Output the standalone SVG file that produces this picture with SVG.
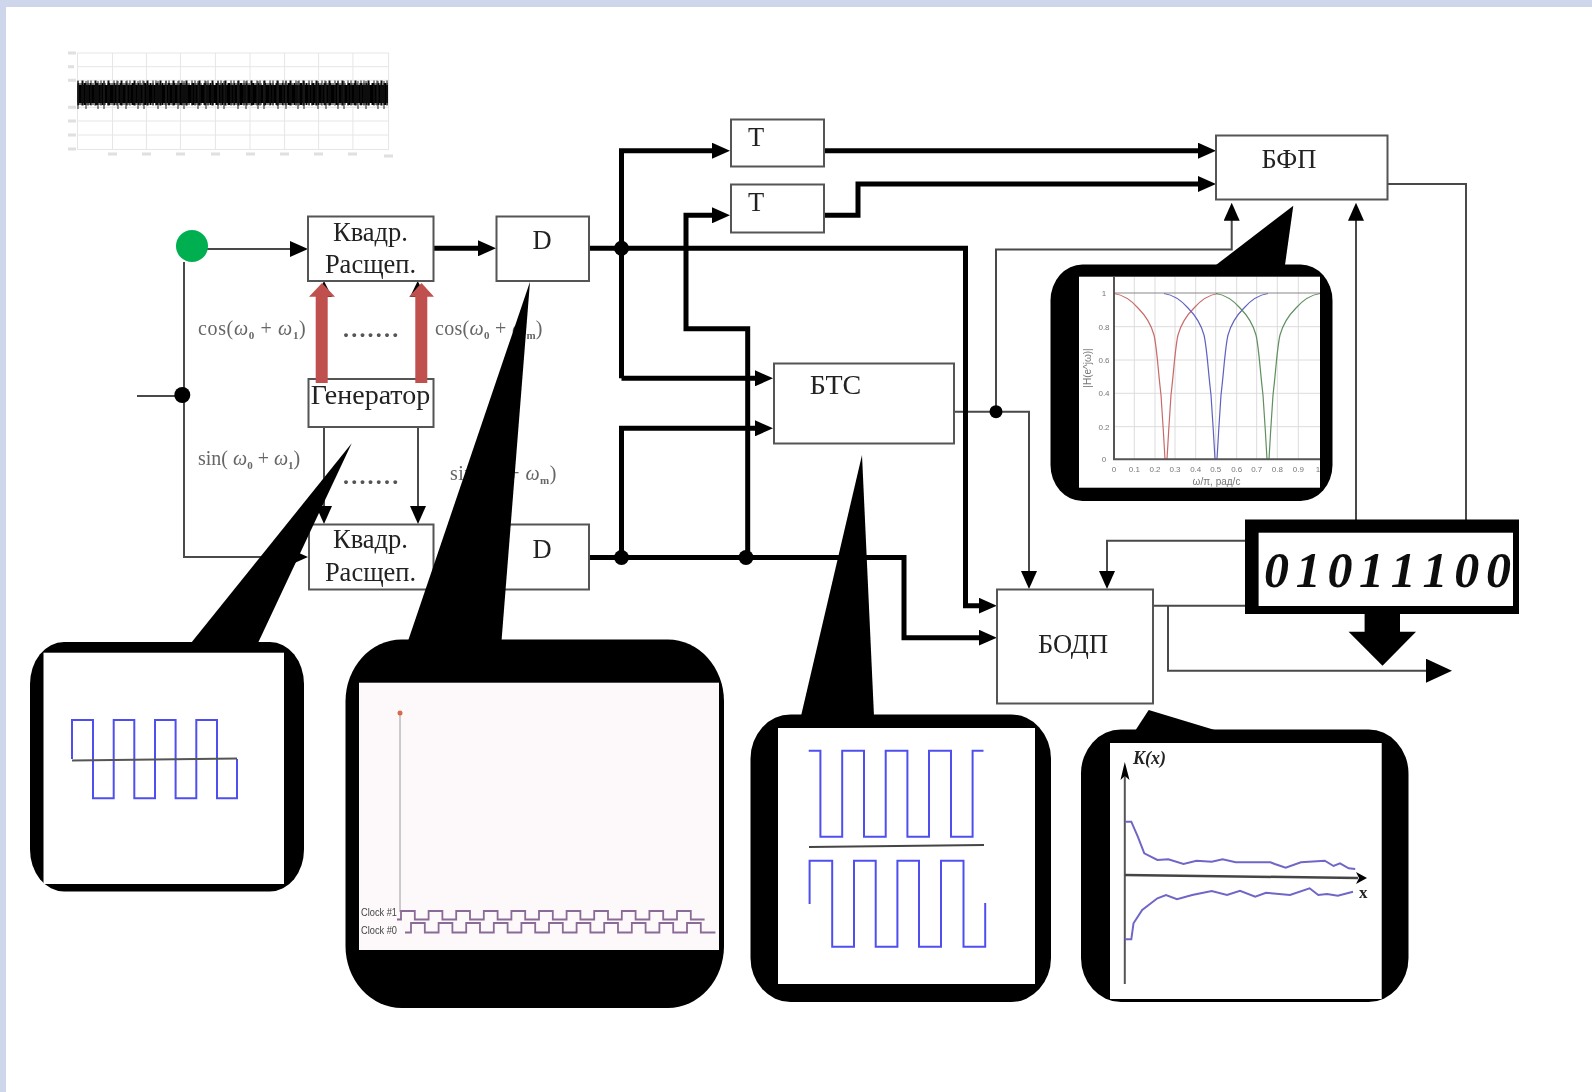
<svg xmlns="http://www.w3.org/2000/svg" width="1592" height="1092" viewBox="0 0 1592 1092">
<style>
.box{fill:#fff;stroke:#555;stroke-width:2}
.t{font-family:"Liberation Serif","Noto Sans CJK SC",serif;font-size:26.5px;fill:#222;text-anchor:middle}
.lab{font-family:"Liberation Serif",serif;font-size:20px;fill:#666}
.w{font-style:italic}
.s{font-size:11px;font-weight:bold}
.dots{font-family:"Liberation Serif",serif;font-size:24px;font-weight:bold;fill:#555;letter-spacing:2.2px}
.thin{fill:none;stroke:#484848;stroke-width:2}
.thick{fill:none;stroke:#000;stroke-width:5}
.dot{fill:#000}
.bk{fill:#000}
.wave{fill:none;stroke:#4f4ff0;stroke-width:2}
.clk{fill:none;stroke:#8a6a96;stroke-width:1.8}
.grid{stroke:#dcdcdc;stroke-width:1;fill:none}
.lite{stroke:#e6e6e6}
.tick{font-family:"Liberation Sans",sans-serif;font-size:8px;fill:#777;text-anchor:middle}
.axis{fill:none;stroke:#555;stroke-width:2}
.red{fill:#c0504d}
.notch{fill:none;stroke-width:1.2}
.kc{fill:none;stroke:#6f66c8;stroke-width:2}
</style>
<defs>
<filter id="soft" filterUnits="userSpaceOnUse" x="0" y="0" width="1592" height="1092"><feGaussianBlur stdDeviation="0.55"/></filter>
<filter id="softer" filterUnits="userSpaceOnUse" x="0" y="0" width="1592" height="1092"><feGaussianBlur stdDeviation="0.7"/></filter>
<marker id="a" markerUnits="userSpaceOnUse" markerWidth="18" markerHeight="16" refX="9" refY="8" orient="auto" viewBox="0 0 18 16"><path d="M0 0L18 8L0 16z" fill="#000"/></marker>
<marker id="big" markerUnits="userSpaceOnUse" markerWidth="26" markerHeight="24" refX="9" refY="12" orient="auto" viewBox="0 0 26 24"><path d="M0 0L26 12L0 24z" fill="#000"/></marker>
<path id="notch" d="M-52 293.5C-42 295-35 300-28 308C-20 316-15 324-12 335C-9 348-8 370-5 395C-4 410-2 440-1 459.3H1C2 440 4 410 5 395C8 370 9 348 12 335C15 324 20 316 28 308C35 300 42 295 52 293.5"/>
</defs>
<rect width="1592" height="1092" fill="#fff"/>
<path d="M0 0H1592V7H6V1092H0z" fill="#cdd6ea"/>

<g id="noise-chart" filter="url(#softer)">
<path class="grid lite" d="M77.5 53H389M77.5 66.7H389M77.5 80.3H389M77.5 94H389M77.5 107.3H389M77.5 121H389M77.5 135H389M77.5 149.5H389M77.5 53V150M112.5 53V150M146.4 53V150M180.4 53V150M215.4 53V150M250 53V150M284.6 53V150M318.6 53V150M352.9 53V150M388.6 53V150"/>
<path d="M77.5 94H388" stroke="#000" stroke-width="18" fill="none"/>
<path d="M77.5 94H388" stroke="#000" stroke-width="22" stroke-dasharray="2 1 1 2 3 1 1 1" fill="none"/>
<path d="M77.5 93H388" stroke="#111" stroke-width="25" stroke-dasharray="1 3 2 4 1 2" fill="none"/>
<path d="M77.5 95H388" stroke="#222" stroke-width="28" stroke-dasharray="1 7 1 11 1 5 1 13" fill="none"/>
<path d="M68 53h8M68 66.7h6M68 80.3h8M68 107.3h8M68 121h8M68 135h8M68 149h8M108 154h9M142 154h9M176 154h9M211 154h9M246 154h9M280 154h9M314 154h9M348 154h9M384 156h9" stroke="#e0e0e0" stroke-width="3" fill="none"/>
</g>

<g filter="url(#soft)">
<g id="connectors">
<path class="thin" marker-end="url(#a)" d="M207 249H299"/>
<path class="thin" marker-end="url(#a)" d="M184 262V557H299"/>
<path class="thin" d="M137 396H182"/>
<path class="thin" marker-end="url(#a)" d="M324 427V515"/>
<path class="thin" marker-end="url(#a)" d="M418 427V515"/>
<path class="bk" d="M324 281L316 297H332zM417.7 281L410 297H426z"/>
<path class="thin" marker-end="url(#a)" d="M954 411.7H1029V580"/>
<path class="thin" marker-end="url(#a)" d="M996 411.7V249.5H1231.7V211.7"/>
<path class="thin" marker-end="url(#a)" d="M1356 520V211.7"/>
<path class="thin" d="M1387 184H1466V520"/>
<path class="thin" marker-end="url(#a)" d="M1245 540.7H1107V580"/>
<path class="thin" d="M1153 605.7H1245"/>
<path class="thin" marker-end="url(#big)" d="M1168 605.7V670.7H1435"/>
<path class="thick" marker-end="url(#a)" d="M433 248.3H487"/>
<path class="thick" marker-end="url(#a)" d="M589 248.3H965.5V605.7H987.8"/>
<path class="thick" marker-end="url(#a)" d="M589 557.5H904V637.7H987.8"/>
<path class="thick" marker-end="url(#a)" d="M621.5 378.3V150.7H721"/>
<path class="thick" marker-end="url(#a)" d="M621.5 378.3H764"/>
<path class="thick" marker-end="url(#a)" d="M621.5 557.5V428.3H764"/>
<path class="thick" marker-end="url(#a)" d="M747.7 557.5V328.7H686V215.3H721"/>
<path class="thick" marker-end="url(#a)" d="M824 150.7H1207"/>
<path class="thick" marker-end="url(#a)" d="M824 215.3H858V184H1207"/>
<circle class="dot" cx="182.3" cy="395" r="8"/>
<circle class="dot" cx="621.5" cy="248.3" r="7.5"/>
<circle class="dot" cx="621.5" cy="557.5" r="7.5"/>
<circle class="dot" cx="746" cy="557.5" r="7.5"/>
<circle class="dot" cx="996" cy="411.7" r="6.5"/>
</g>

<g id="node-splitter-top"><rect class="box" x="308" y="216.5" width="125.5" height="64.5"/><text class="t" x="370.5" y="241">Квадр.</text><text class="t" x="370.5" y="273">Расщеп.</text></g>
<g id="node-delay-top"><rect class="box" x="496.5" y="216.5" width="92.5" height="64.5"/><text class="t" x="542" y="249">D</text></g>
<g id="node-generator"><rect class="box" x="308.5" y="379" width="125" height="48"/><text class="t" x="370.5" y="404" style="font-size:28px">Генератор</text></g>
<g id="node-splitter-bottom"><rect class="box" x="309" y="524.5" width="124.5" height="65"/><text class="t" x="370.5" y="548">Квадр.</text><text class="t" x="370.5" y="581">Расщеп.</text></g>
<g id="node-delay-bottom"><rect class="box" x="496.5" y="524.5" width="92.5" height="65"/><text class="t" x="542" y="558">D</text></g>
<g id="node-t1"><rect class="box" x="731" y="119.5" width="93" height="47"/><text class="t" x="756" y="146">Т</text></g>
<g id="node-t2"><rect class="box" x="731" y="184.5" width="93" height="48"/><text class="t" x="756" y="211">Т</text></g>
<g id="node-bts"><rect class="box" x="774" y="363.5" width="180" height="80"/><text class="t" x="835.5" y="394" style="font-size:28px">БТС</text></g>
<g id="node-bfp"><rect class="box" x="1216" y="135.5" width="171.5" height="64"/><text class="t" x="1289" y="168">БФП</text></g>
<g id="node-bodp"><rect class="box" x="997" y="589.5" width="156" height="114"/><text class="t" x="1073" y="653">БОДП</text></g>

<g id="labels">
<text class="lab" x="198" y="335" letter-spacing="0.65">cos(<tspan class="w">ω</tspan><tspan class="s" dy="4">0</tspan><tspan dy="-4"> + </tspan><tspan class="w">ω</tspan><tspan class="s" dy="4">1</tspan><tspan dy="-4">)</tspan></text>
<text class="lab" x="435" y="335" letter-spacing="0.3">cos(<tspan class="w">ω</tspan><tspan class="s" dy="4">0</tspan><tspan dy="-4"> + </tspan><tspan class="w">ω</tspan><tspan class="s" dy="4">m</tspan><tspan dy="-4">)</tspan></text>
<text class="lab" x="198" y="465">sin( <tspan class="w">ω</tspan><tspan class="s" dy="4">0</tspan><tspan dy="-4"> + </tspan><tspan class="w">ω</tspan><tspan class="s" dy="4">1</tspan><tspan dy="-4">)</tspan></text>
<text class="lab" x="450" y="480" letter-spacing="0.5">sin(<tspan class="w">ω</tspan><tspan class="s" dy="4">0</tspan><tspan dy="-4"> + </tspan><tspan class="w">ω</tspan><tspan class="s" dy="4">m</tspan><tspan dy="-4">)</tspan></text>
<text class="dots" x="343" y="337">.......</text>
<text class="dots" x="343" y="484">.......</text>
</g>
</g>

<g id="pilot-arrows">
<path class="red" d="M315.7 383V296.7H309L322 283L335 296.7H327.7V383z"/>
<path class="red" d="M415.3 383V296.7H409L421.5 283L434 296.7H427.3V383z"/>
</g>
<g id="green-node"><ellipse cx="192" cy="246" rx="16" ry="16" fill="#00b050"/></g>

<g id="callout-generator">
<path class="bk" d="M351.7 443.3L191 643H258z"/>
<rect class="bk" x="30" y="642" width="274" height="249.5" rx="34" ry="42"/>
<rect x="43.5" y="652.7" width="240.5" height="231.3" fill="#fff"/>
<g filter="url(#soft)">
<path class="wave" d="M72 759V720H93V798.3H113.7V720H134.3V798.3H155V720H175.6V798.3H196.3V720H217V798.3H237V759"/>
<path d="M72 760.5L237 758.5" stroke="#555" stroke-width="2" fill="none"/>
</g>
</g>

<g id="callout-delay">
<path class="bk" d="M530 281.7L408 641H501.5z"/>
<rect class="bk" x="345.5" y="639.5" width="378.5" height="368.5" rx="56" ry="62"/>
<rect x="359" y="682.7" width="360" height="267.3" fill="#fdf9fa"/>
<g filter="url(#soft)">
<path d="M400 713V912" stroke="#aaa" stroke-width="1.2" fill="none"/>
<circle cx="400" cy="713" r="2.5" fill="#d86a4a"/>
<text x="361" y="916" font-family="Liberation Sans,sans-serif" font-size="11" fill="#444" textLength="36" lengthAdjust="spacingAndGlyphs">Clock #1</text>
<text x="361" y="934" font-family="Liberation Sans,sans-serif" font-size="11" fill="#444" textLength="36" lengthAdjust="spacingAndGlyphs">Clock #0</text>
<path class="clk" d="M397 919.5H401V911h13.8v8.5h13.8v-8.5h13.8v8.5h13.8v-8.5h13.8v8.5h13.8v-8.5h13.8v8.5h13.8v-8.5h13.8v8.5h13.8v-8.5h13.8v8.5h13.8v-8.5h13.8v8.5h13.8v-8.5h13.8v8.5h13.8v-8.5h13.8v8.5h13.8v-8.5h13.8v8.5h13.8v-8.5h13.8v8.5h13.8"/>
<path class="clk" d="M405 932.5H411V923h13.8v9.5h13.8v-9.5h13.8v9.5h13.8v-9.5h13.8v9.5h13.8v-9.5h13.8v9.5h13.8v-9.5h13.8v9.5h13.8v-9.5h13.8v9.5h13.8v-9.5h13.8v9.5h13.8v-9.5h13.8v9.5h13.8v-9.5h13.8v9.5h13.8v-9.5h13.8v9.5h13.8v-9.5h13.8v9.5h14.6"/>
</g>
</g>

<g id="callout-bts">
<path class="bk" d="M862 455L801 716H874z"/>
<rect class="bk" x="750.5" y="714.5" width="300.5" height="287.5" rx="40" ry="44"/>
<rect x="778" y="728" width="257" height="256" fill="#fff"/>
<g filter="url(#soft)">
<path class="wave" d="M808.7 750.7H820.4V836.7H842.2V750.7H864V836.7H885.7V750.7H907.4V836.7H929V750.7H951V836.7H972.6V750.7H983.5"/>
<path d="M809 847L984 845" stroke="#444" stroke-width="2" fill="none"/>
<path class="wave" d="M809.6 904V860.7H832.2V946.7H854V860.7H875.7V946.7H897.4V860.7H919V946.7H941V860.7H963.5V946.7H985.2V903"/>
</g>
</g>

<g id="callout-bodp">
<path class="bk" d="M1148.7 710L1135 731H1218z"/>
<rect class="bk" x="1081" y="729.5" width="327.5" height="272.5" rx="40" ry="44"/>
<rect x="1110" y="743" width="271.7" height="256" fill="#fff"/>
<g filter="url(#soft)">
<path class="axis" d="M1124.8 772V984"/>
<path class="bk" d="M1124.8 762L1129.5 780L1124.8 776L1120.5 780z"/>
<path d="M1125 875L1358 878" stroke="#444" stroke-width="2.5" fill="none"/>
<path class="bk" d="M1367 878L1356 872L1359 878L1356 884z"/>
<text x="1133" y="764" font-family="Liberation Serif,serif" font-size="18" font-weight="bold" font-style="italic" fill="#222">K(x)</text>
<text x="1359" y="898" font-family="Liberation Serif,serif" font-size="17" font-weight="bold" fill="#222">x</text>
<path class="kc" d="M1124.8 821.7L1131.3 821.7L1137.8 836.7L1144.3 853.3L1157.4 860L1168.3 859.3L1183.5 864L1196.5 860.7L1211.7 861.7L1222.6 859.3L1235.7 862.3L1270.4 862.3L1274.8 864L1285.7 867.7L1300.9 862.3L1324.8 860.7L1333.5 866L1340 863.3L1348.7 868.3L1355.2 869"/>
<path class="kc" d="M1124.8 939.3L1131.3 939.3L1133.5 923.3L1142.2 910L1157.4 898.3L1166 895L1177 899.3L1192.2 895L1211.7 891L1227 895L1240 890.7L1255.2 896.7L1266 892.7L1290 895L1309.6 888.3L1318.3 895L1327 894L1337.8 895.7L1353 891.7"/>
</g>
</g>

<g id="callout-bfp">
<path class="bk" d="M1293.3 205.7L1216 265H1285z"/>
<rect class="bk" x="1050.5" y="264.5" width="282" height="236.5" rx="32" ry="36"/>
<rect x="1079" y="276.7" width="241" height="211" fill="#fff"/>
<g filter="url(#soft)">
<path class="grid" d="M1134.3 277V459M1155 277V459M1175 277V459M1195.7 277V459M1215.7 277V459M1236.7 277V459M1256.7 277V459M1277.3 277V459M1298.3 277V459M1114 326.7H1320M1114 360H1320M1114 393.3H1320M1114 426.7H1320"/>
<use href="#notch" x="1166" class="notch" stroke="#c96a6a"/>
<use href="#notch" x="1216" class="notch" stroke="#6060c0"/>
<use href="#notch" x="1268" class="notch" stroke="#5f8f5f"/>
<path d="M1114 293H1320" stroke="#888" stroke-width="1" fill="none"/>
<path class="axis" d="M1114 277V459.3H1320"/>
<text class="tick" x="1104" y="296">1</text>
<text class="tick" x="1104" y="330">0.8</text>
<text class="tick" x="1104" y="363">0.6</text>
<text class="tick" x="1104" y="396">0.4</text>
<text class="tick" x="1104" y="430">0.2</text>
<text class="tick" x="1104" y="462">0</text>
<text class="tick" x="1114" y="472">0</text>
<text class="tick" x="1134.3" y="472">0.1</text>
<text class="tick" x="1155" y="472">0.2</text>
<text class="tick" x="1175" y="472">0.3</text>
<text class="tick" x="1195.7" y="472">0.4</text>
<text class="tick" x="1215.7" y="472">0.5</text>
<text class="tick" x="1236.7" y="472">0.6</text>
<text class="tick" x="1256.7" y="472">0.7</text>
<text class="tick" x="1277.3" y="472">0.8</text>
<text class="tick" x="1298.3" y="472">0.9</text>
<text class="tick" x="1318" y="472">1</text>
<text class="tick" x="1216.5" y="485" style="font-size:10px">ω/π, рад/с</text>
<text class="tick" x="1091" y="368" style="font-size:10px" transform="rotate(-90 1091 368)">|H(e^jω)|</text>
</g>
</g>

<g id="bit-box">
<path class="bk" d="M1245 519.5H1519V614H1400V631.7H1416L1382.5 665.7L1348.6 631.7H1364.6V614H1245z"/>
<rect x="1258.6" y="532.7" width="254.4" height="73.3" fill="#fff"/>
<text x="1264" y="587" font-family="Liberation Serif,serif" font-size="50" font-weight="bold" font-style="italic" fill="#111" word-spacing="-5.8" filter="url(#soft)">0 1 0 1 1 1 0 0</text>
</g>
</svg>
